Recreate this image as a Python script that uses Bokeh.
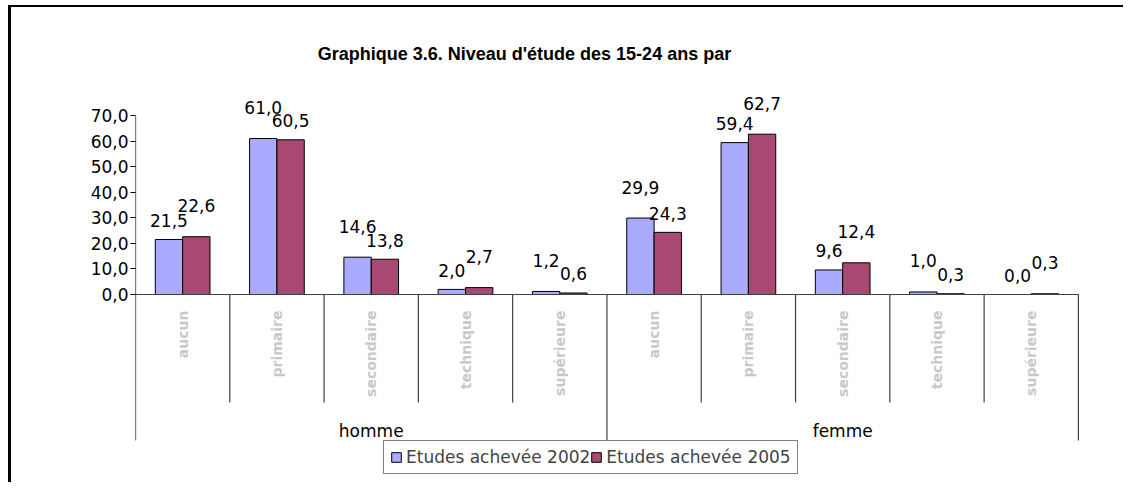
import math
from bokeh.plotting import figure
from bokeh.models import (Range1d, FixedTicker, LabelSet, Label, ColumnDataSource,
                          Legend, LegendItem)
from bokeh.core.properties import value
from bokeh.embed import file_html
from bokeh.resources import INLINE

# ---- data ----
groups = ["homme", "femme"]
categories = ["aucun", "primaire", "secondaire", "technique", "supérieure"]
series_names = ["Etudes achevée 2002", "Etudes achevée 2005"]
homme_2002 = [21.5, 61.0, 14.6, 2.0, 1.2]
homme_2005 = [22.6, 60.5, 13.8, 2.7, 0.6]
femme_2002 = [29.9, 59.4, 9.6, 1.0, 0.0]
femme_2005 = [24.3, 62.7, 12.4, 0.3, 0.3]
y_ticks = [0, 10, 20, 30, 40, 50, 60, 70]
y_tick_labels = ["0,0", "10,0", "20,0", "30,0", "40,0", "50,0", "60,0", "70,0"]
title_text = "Graphique 3.6. Niveau d'étude des 15-24 ans par"

# ---- derived ----
def fr(v):
    return f"{v:.1f}".replace(".", ",")

v2002 = homme_2002 + femme_2002
v2005 = homme_2005 + femme_2005
n = len(v2002)
centers = [i + 0.5 for i in range(n)]
bw = 0.29
x2002 = [c - bw / 2 for c in centers]
x2005 = [c + bw / 2 for c in centers]
cat_names = categories * len(groups)

C2002 = "#aaaaff"
C2005 = "#aa4874"
FONT = "DejaVu Sans"
LOW_OFF, HIGH_OFF = 19, 31

p = figure(width=1115, height=477, output_backend="svg", toolbar_location=None,
           x_range=Range1d(0, 10.51), y_range=Range1d(-74.3, 112.24),
           min_border_left=124, min_border_right=0, min_border_top=0,
           min_border_bottom=0)
p.styles = {"margin-left": "8px", "margin-top": "5px",
            "border-top": "2px solid #000", "border-left": "3px solid #000"}
p.outline_line_color = None
p.xgrid.visible = False
p.ygrid.visible = False
p.xaxis.visible = False

ya = p.yaxis[0]
ya.ticker = FixedTicker(ticks=y_ticks)
ya.major_label_overrides = {t: l for t, l in zip(y_ticks, y_tick_labels)}
ya.major_label_text_font = FONT
ya.major_label_text_font_size = "17px"
ya.major_label_text_color = "#000000"
ya.major_tick_out = 5
ya.major_tick_in = 0
ya.minor_tick_out = 0
ya.minor_tick_in = 0
ya.major_label_standoff = 2
ya.axis_line_color = None
ya.major_tick_line_color = "#000000"

# bars
src = ColumnDataSource(dict(x2002=x2002, x2005=x2005, v2002=v2002, v2005=v2005))
r1 = p.vbar(x="x2002", top="v2002", width=bw, bottom=0, source=src,
            fill_color=C2002, line_color="#000000", line_width=1)
r2 = p.vbar(x="x2005", top="v2005", width=bw, bottom=0, source=src,
            fill_color=C2005, line_color="#000000", line_width=1)

# axis frame lines
inner_depth = -42.2
group_depth = -57.1
p.segment(x0=[0], y0=[max(y_ticks)], x1=[0], y1=[group_depth],
          line_color="#000000", line_width=1.2)
p.segment(x0=[0], y0=[0], x1=[n], y1=[0], line_color="#404040", line_width=1.2)
bx = list(range(1, n + 1))
by1 = [group_depth if (b % len(categories) == 0) else inner_depth for b in bx]
p.segment(x0=bx, y0=[0] * len(bx), x1=bx, y1=by1, line_color="#404040", line_width=1.2)

# value labels: the taller bar of each pair gets its label lifted to avoid overlap
lx, ly, lt, lo = [], [], [], []
for a, b, xa, xb in zip(v2002, v2005, x2002, x2005):
    a_high = a >= b
    lx += [xa, xb]
    ly += [a, b]
    lt += [fr(a), fr(b)]
    lo += [HIGH_OFF if a_high else LOW_OFF, LOW_OFF if a_high else HIGH_OFF]
lab_src = ColumnDataSource(dict(x=lx, y=ly, t=lt, off=lo))
for off in (LOW_OFF, HIGH_OFF):
    idx = [i for i, o in enumerate(lo) if o == off]
    s = ColumnDataSource(dict(x=[lx[i] for i in idx], y=[ly[i] for i in idx],
                              t=[lt[i] for i in idx]))
    p.add_layout(LabelSet(x="x", y="y", text="t", source=s, y_offset=off,
                          text_align="center", text_baseline="middle",
                          text_font=value(FONT), text_font_size=value("17px"),
                          text_color="#000000"))

# category labels (rotated)
cat_src = ColumnDataSource(dict(x=centers, y=[0] * n, t=cat_names))
p.add_layout(LabelSet(x="x", y="y", text="t", source=cat_src, y_offset=-16,
                      angle=math.pi / 2, text_align="right", text_baseline="middle",
                      text_font=value(FONT), text_font_size=value("14px"),
                      text_font_style="bold", text_color="#c8c8c8"))

# group labels
g_centers = [len(categories) * (g + 0.5) for g in range(len(groups))]
grp_src = ColumnDataSource(dict(x=g_centers, y=[0] * len(groups), t=groups))
p.add_layout(LabelSet(x="x", y="y", text="t", source=grp_src, y_offset=-136,
                      text_align="center", text_baseline="middle",
                      text_font=value(FONT), text_font_size=value("17px"),
                      text_color="#000000"))

# title
p.add_layout(Label(x=4.125, y=94.25, text=title_text,
                   text_align="center", text_baseline="middle",
                   text_font="Liberation Sans", text_font_size="18px",
                   text_font_style="bold", text_color="#000000"))

# legend
legend = Legend(items=[LegendItem(label=series_names[0], renderers=[r1]),
                       LegendItem(label=series_names[1], renderers=[r2])],
                orientation="horizontal", location=(248, 10),
                glyph_width=12, glyph_height=12, label_standoff=4, spacing=0,
                padding=6, margin=0, border_line_color="#000000", border_line_width=1,
                label_text_font=FONT, label_text_font_size="17px",
                label_height=18, background_fill_alpha=1.0)
p.add_layout(legend)

open("out.html", "w").write(file_html(p, INLINE))
